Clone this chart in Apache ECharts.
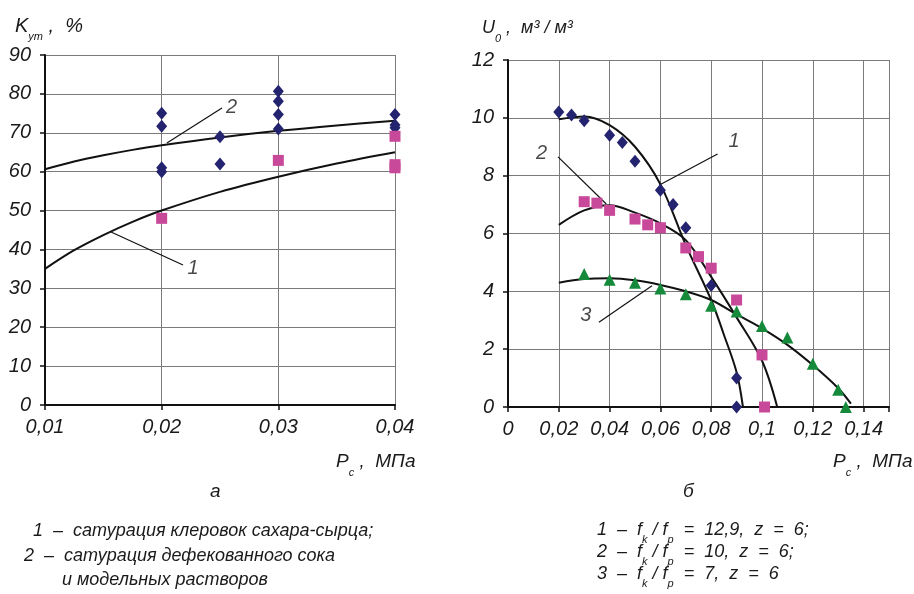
<!DOCTYPE html>
<html><head><meta charset="utf-8">
<script src="https://cdn.jsdelivr.net/npm/echarts@6/dist/echarts.min.js"></script>
<style>html,body{margin:0;padding:0;background:#fff}#c{width:914px;height:594px}</style>
</head><body><div id="c"></div>
<script>
// ---- Chart "а" (left) ----
const aXTicks = [0.01, 0.02, 0.03, 0.04];
const aDiamonds = [[0.02,75],[0.02,71.7],[0.02,61],[0.02,60],[0.025,69],[0.025,62],[0.03,80.7],[0.03,78.1],[0.03,74.7],[0.03,71],[0.04,74.7],[0.04,72],[0.04,71.3]];
const aSquares = [[0.02,48],[0.03,62.9],[0.04,69.1],[0.04,61.8],[0.04,61]];
const aCurve1 = [[0.01,35],[0.0125,39.8],[0.015,43.7],[0.0175,47.1],[0.02,50],[0.025,54.8],[0.03,58.7],[0.035,62.1],[0.04,65]];
const aCurve2 = [[0.01,60.6],[0.0125,62.6],[0.015,64.2],[0.0175,65.6],[0.02,66.8],[0.025,68.8],[0.03,70.5],[0.035,71.9],[0.04,73.1]];
const aLeader1 = [[0.01566,44.5],[0.02183,36.0]];
const aLeader2 = [[0.02045,67.4],[0.02517,76.4]];
const aCurveLabels = [{name:'1', value:[0.0227,35.2]}, {name:'2', value:[0.0260,76.6]}];

// ---- Chart "б" (right) ----
const bDiamonds = [[0.02,10.2],[0.025,10.1],[0.03,9.9],[0.04,9.4],[0.045,9.15],[0.05,8.5],[0.06,7.5],[0.065,7.0],[0.07,6.2],[0.08,4.2],[0.09,1.0],[0.09,0]];
const bSquares = [[0.03,7.1],[0.035,7.05],[0.04,6.8],[0.05,6.5],[0.055,6.3],[0.06,6.2],[0.07,5.5],[0.075,5.2],[0.08,4.8],[0.09,3.7],[0.1,1.8],[0.101,0]];
const bTriangles = [[0.03,4.6],[0.04,4.4],[0.05,4.3],[0.06,4.1],[0.07,3.9],[0.08,3.5],[0.09,3.3],[0.1,2.8],[0.11,2.4],[0.12,1.5],[0.13,0.6],[0.133,0]];
const bCurve1 = [[0.02,9.95],[0.03,10.05],[0.04,9.75],[0.05,9.0],[0.06,7.7],[0.07,5.6],[0.08,3.7],[0.085,2.5],[0.09,1.2],[0.0925,0]];
const bCurve2 = [[0.02,6.3],[0.03,6.8],[0.04,6.98],[0.05,6.72],[0.06,6.35],[0.07,5.77],[0.08,4.5],[0.09,3.1],[0.1,1.6],[0.106,0]];
const bCurve3 = [[0.02,4.3],[0.03,4.43],[0.04,4.45],[0.05,4.38],[0.06,4.22],[0.07,4.0],[0.08,3.7],[0.09,3.2],[0.1,2.72],[0.11,2.15],[0.12,1.45],[0.13,0.65],[0.135,0.12]];
const bLeader1 = [[0.0596,7.68],[0.0825,8.75]];
const bLeader2 = [[0.0197,8.65],[0.0387,7.02]];
const bLeader3 = [[0.0358,2.93],[0.0567,4.19]];
const bCurveLabels = [{name:'1', value:[0.0890,9.17]}, {name:'2', value:[0.0132,8.77]}, {name:'3', value:[0.0306,3.18]}];

const FONT = '"Liberation Sans", Arial, sans-serif';
const NAVY = '#23236f', PINK = '#c8489a', GREEN = '#158a3a';
const fmt = v => { const s = String(Number(v.toFixed(3))); return s.replace('.', ','); };

const tickLabel = {fontStyle:'italic', fontSize:20, fontFamily:FONT, color:'#1a1a1a'};
const gridLine = {show:true, lineStyle:{color:'#7a7a7a', width:1}};
const axisLine = {show:true, onZero:false, lineStyle:{color:'#111', width:2}};
const axisTick = {show:true, length:5, lineStyle:{color:'#111', width:1.5}};

function curve(data, xi) {
  return {type:'line', xAxisIndex:xi, yAxisIndex:xi, data, smooth:0.35, symbol:'none', silent:true,
    lineStyle:{color:'#111', width:2}, z:2};
}
function leader(data, xi) {
  return {type:'line', xAxisIndex:xi, yAxisIndex:xi, data, symbol:'none', silent:true,
    lineStyle:{color:'#111', width:1.2}, z:2};
}
function pts(data, xi, symbol, size, color) {
  return {type:'scatter', xAxisIndex:xi, yAxisIndex:xi, data, symbol, symbolSize:size,
    itemStyle:{color, opacity:1}, z:3};
}
function labels(data, xi) {
  return {type:'scatter', xAxisIndex:xi, yAxisIndex:xi, data, symbolSize:0, silent:true,
    label:{show:true, position:'inside', formatter:p => p.name, fontStyle:'italic', fontSize:20, fontFamily:FONT, color:'#1a1a1a'}, z:4};
}

function rt(x, y, text, rich) {
  return {type:'text', x, y, silent:true, style:{text, rich, fill:'#1a1a1a', verticalAlign:'middle'}};
}
const M = s => ({fontStyle:'italic', fontSize:s, fontFamily:FONT, color:'#1a1a1a', lineHeight:20, verticalAlign:'middle'});
const S = (s, h) => ({fontStyle:'italic', fontSize:s, fontFamily:FONT, color:'#1a1a1a', lineHeight:h, verticalAlign:'bottom'});

const chart = echarts.init(document.getElementById('c'), null, {renderer:'canvas'});
chart.setOption({
  animation:false,
  backgroundColor:'#fff',
  grid:[
    {left:45, top:55, width:350, height:350},
    {left:508, top:60, width:381, height:347}
  ],
  xAxis:[
    {type:'value', gridIndex:0, min:aXTicks[0], max:aXTicks[aXTicks.length-1], interval:0.01,
      axisLine, axisTick, splitLine:gridLine, axisLabel:Object.assign({margin:12, formatter:fmt}, tickLabel)},
    {type:'value', gridIndex:1, min:0, max:0.15, interval:0.02,
      axisLine, axisTick, splitLine:gridLine,
      axisLabel:Object.assign({margin:12, formatter:v => (v > 0.145 ? '' : fmt(v))}, tickLabel)}
  ],
  yAxis:[
    {type:'value', gridIndex:0, min:0, max:90, interval:10,
      axisLine, axisTick, splitLine:gridLine, axisLabel:Object.assign({margin:14}, tickLabel)},
    {type:'value', gridIndex:1, min:0, max:12, interval:2,
      axisLine, axisTick, splitLine:gridLine, axisLabel:Object.assign({margin:14}, tickLabel)}
  ],
  series:[
    curve(aCurve1, 0), curve(aCurve2, 0),
    leader(aLeader1, 0), leader(aLeader2, 0),
    pts(aDiamonds, 0, 'diamond', [11,13], NAVY),
    pts(aSquares, 0, 'rect', 11, PINK),
    labels(aCurveLabels, 0),
    curve(bCurve1, 1), curve(bCurve2, 1), curve(bCurve3, 1),
    leader(bLeader1, 1), leader(bLeader2, 1), leader(bLeader3, 1),
    pts(bDiamonds, 1, 'diamond', [11,13], NAVY),
    pts(bSquares, 1, 'rect', 11, PINK),
    pts(bTriangles, 1, 'triangle', 12, GREEN),
    labels(bCurveLabels, 1)
  ],
  graphic:[
    rt(15, 26, '{m|K}{s|ут}{m| ,  %}', {m:M(20), s:S(11, 32)}),
    rt(482, 28, '{m|U}{s|0}{m| ,  м³ / м³}', {m:M(18), s:S(11, 33)}),
    rt(336, 462, '{m|P}{s|c}{m| ,  МПа}', {m:M(19), s:S(11, 33)}),
    rt(833, 462, '{m|P}{s|c}{m| ,  МПа}', {m:M(19), s:S(11, 33)}),
    rt(210, 492, '{m|а}', {m:M(19)}),
    rt(683, 492, '{m|б}', {m:M(19)}),
    rt(33, 531, '{m|1  –  сатурация клеровок сахара-сырца;}', {m:M(18)}),
    rt(24, 556, '{m|2  –  сатурация дефекованного сока}', {m:M(18)}),
    rt(62, 580, '{m|и модельных растворов}', {m:M(18)}),
    rt(597, 530, '{m|1  –  f}{s|k}{m| / f}{s|p}{m|  =  12,9,  z  =  6;}', {m:M(18), s:S(11, 30)}),
    rt(597, 552, '{m|2  –  f}{s|k}{m| / f}{s|p}{m|  =  10,  z  =  6;}', {m:M(18), s:S(11, 30)}),
    rt(597, 574, '{m|3  –  f}{s|k}{m| / f}{s|p}{m|  =  7,  z  =  6}', {m:M(18), s:S(11, 30)})
  ]
});
</script>
</body></html>
